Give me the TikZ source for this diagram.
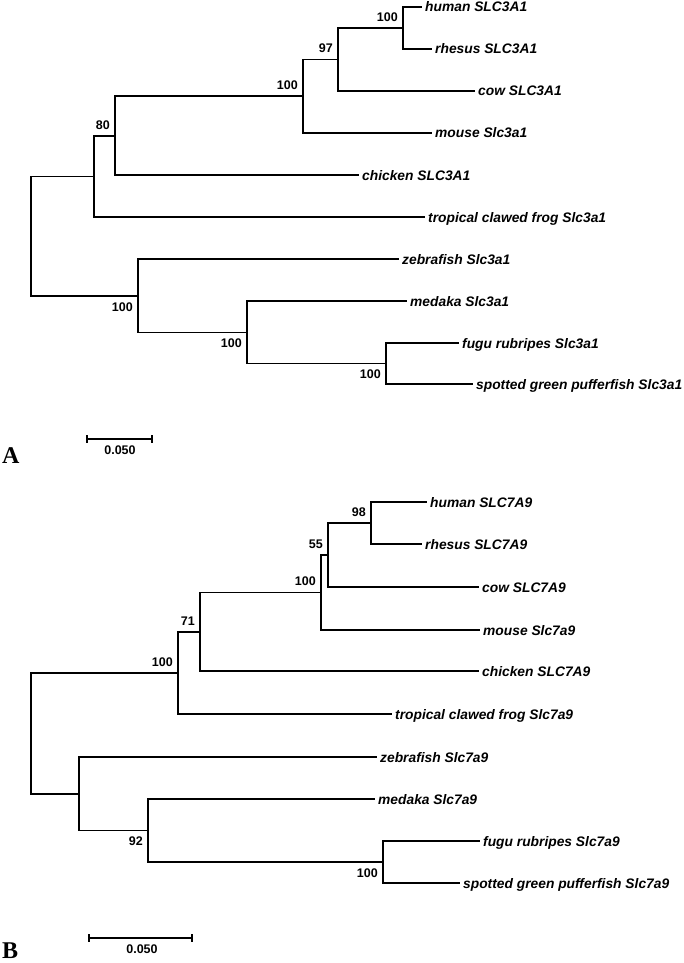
\documentclass[tikz,border=0pt]{standalone}
\usepackage{fontspec}
\setmainfont{Liberation Sans}
\newfontfamily\serifbold{Liberation Serif}
\tikzset{
  br/.style={line width=1.5pt},
  leaflab/.style={anchor=base west, inner sep=0pt, font=\fontsize{13.8}{14}\selectfont\bfseries\itshape},
  bs/.style={inner sep=0pt, font=\fontsize{12.5}{12.5}\selectfont\bfseries},
  bsup/.style={bs, anchor=south east},
  bsdn/.style={bs, anchor=north east},
  panel/.style={anchor=base west, inner sep=0pt, font=\serifbold\bfseries\fontsize{24}{24}\selectfont}
}
\newcommand\leafnode[4]{\coordinate (#1) at (#2,#3); \node[leaflab] (#1t) at (#2+3,#3+5) {#4};}
\begin{document}
\begin{tikzpicture}[x=1pt,y=-1pt]
\useasboundingbox (0,0) rectangle (684,963);
% ---------------- Tree A ----------------
\leafnode{hA}{422}{7}{human SLC3A1}
\leafnode{rA}{432}{49}{rhesus SLC3A1}
\leafnode{cA}{475}{91}{cow SLC3A1}
\leafnode{mA}{432}{133}{mouse Slc3a1}
\leafnode{chA}{359}{175}{chicken SLC3A1}
\leafnode{fA}{425}{217}{tropical clawed frog Slc3a1}
\leafnode{zA}{399}{259}{zebrafish Slc3a1}
\leafnode{meA}{407}{301}{medaka Slc3a1}
\leafnode{fuA}{459}{343}{fugu rubripes Slc3a1}
\leafnode{spA}{473}{384}{spotted green pufferfish Slc3a1}
\coordinate (a1) at (403,28);
\coordinate (a2) at (338,59.5);
\coordinate (a3) at (303,96);
\coordinate (a4) at (115,136);
\coordinate (a5) at (94,176.5);
\coordinate (a6) at (386,363.5);
\coordinate (a7) at (247,332.5);
\coordinate (a8) at (138,296);
\coordinate (a0) at (31,236);
\draw[br] (a1) |- (hA); \draw[br] (a1) |- (rA);
\draw[br] (a2) |- (a1); \draw[br] (a2) |- (cA);
\draw[br] (a3) |- (a2); \draw[br] (a3) |- (mA);
\draw[br] (a4) |- (a3); \draw[br] (a4) |- (chA);
\draw[br] (a5) |- (a4); \draw[br] (a5) |- (fA);
\draw[br] (a6) |- (fuA); \draw[br] (a6) |- (spA);
\draw[br] (a7) |- (meA); \draw[br] (a7) |- (a6);
\draw[br] (a8) |- (zA); \draw[br] (a8) |- (a7);
\draw[br] (a0) |- (a5); \draw[br] (a0) |- (a8);
\node[bsup] (la1) at (403-5,28-6.5) {100};
\node[bsup] (la2) at (338-5,59.5-6.5) {97};
\node[bsup] (la3) at (303-5,96-6.5) {100};
\node[bsup] (la4) at (115-5,136-6.5) {80};
\node[bsdn] (la8) at (138-5,296+6.5) {100};
\node[bsdn] (la7) at (247-5,332.5+6.5) {100};
\node[bsdn] (la6) at (386-5,363.5+6.5) {100};
\coordinate (sa1) at (87,439);
\coordinate (sa2) at (152,439);
\draw[br] (sa1) -- (sa2);
\draw[br] ([yshift=4pt]sa1) -- ([yshift=-4pt]sa1);
\draw[br] ([yshift=4pt]sa2) -- ([yshift=-4pt]sa2);
\node[bs] (sal) at (120,450.5) {0.050};
\node[panel] (LA) at (2,463) {A};
% ---------------- Tree B ----------------
\leafnode{hB}{427}{502}{human SLC7A9}
\leafnode{rB}{422}{544}{rhesus SLC7A9}
\leafnode{cB}{479}{587}{cow SLC7A9}
\leafnode{mB}{480}{630}{mouse Slc7a9}
\leafnode{chB}{479}{671}{chicken SLC7A9}
\leafnode{fB}{392}{714}{tropical clawed frog Slc7a9}
\leafnode{zB}{377}{757}{zebrafish Slc7a9}
\leafnode{meB}{375}{799}{medaka Slc7a9}
\leafnode{fuB}{480}{841}{fugu rubripes Slc7a9}
\leafnode{spB}{460}{883}{spotted green pufferfish Slc7a9}
\coordinate (b1) at (371,523);
\coordinate (b2) at (328,555);
\coordinate (b3) at (321,592.5);
\coordinate (b4) at (200,632);
\coordinate (b5) at (178,673);
\coordinate (b6) at (383,862);
\coordinate (b7) at (148,830.5);
\coordinate (b8) at (79,794);
\coordinate (b0) at (31,733.5);
\draw[br] (b1) |- (hB); \draw[br] (b1) |- (rB);
\draw[br] (b2) |- (b1); \draw[br] (b2) |- (cB);
\draw[br] (b3) |- (b2); \draw[br] (b3) |- (mB);
\draw[br] (b4) |- (b3); \draw[br] (b4) |- (chB);
\draw[br] (b5) |- (b4); \draw[br] (b5) |- (fB);
\draw[br] (b6) |- (fuB); \draw[br] (b6) |- (spB);
\draw[br] (b7) |- (meB); \draw[br] (b7) |- (b6);
\draw[br] (b8) |- (zB); \draw[br] (b8) |- (b7);
\draw[br] (b0) |- (b5); \draw[br] (b0) |- (b8);
\node[bsup] (lb1) at (371-5,523-6.5) {98};
\node[bsup] (lb2) at (328-5,555-6.5) {55};
\node[bsup] (lb3) at (321-5,592.5-6.5) {100};
\node[bsup] (lb4) at (200-5,632-6.5) {71};
\node[bsup] (lb5) at (178-5,673-6.5) {100};
\node[bsdn] (lb7) at (148-5,830.5+6.5) {92};
\node[bsdn] (lb6) at (383-5,862+6.5) {100};
\coordinate (sb1) at (89,938);
\coordinate (sb2) at (192,938);
\draw[br] (sb1) -- (sb2);
\draw[br] ([yshift=4pt]sb1) -- ([yshift=-4pt]sb1);
\draw[br] ([yshift=4pt]sb2) -- ([yshift=-4pt]sb2);
\node[bs] (sbl) at (142,949.5) {0.050};
\node[panel] (LB) at (2,958) {B};
\end{tikzpicture}
\end{document}
